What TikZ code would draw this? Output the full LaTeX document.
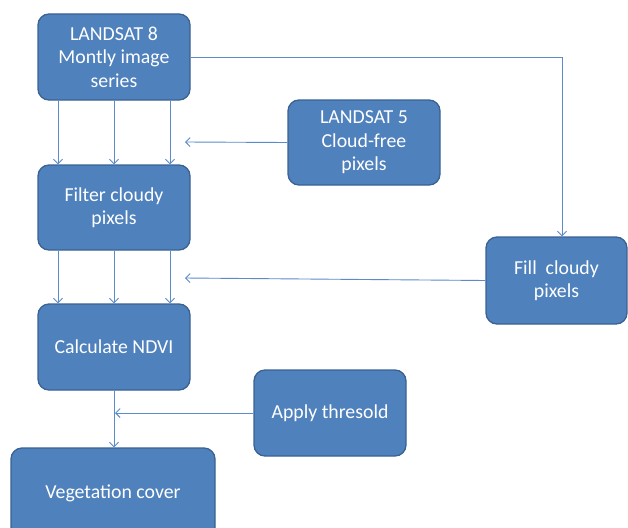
\documentclass[tikz,border=0pt]{standalone}
\usepackage{fontspec}
\setmainfont{Carlito}
\usetikzlibrary{arrows.meta,calc}
\definecolor{boxfill}{HTML}{4F81BD}
\definecolor{boxline}{HTML}{3A6293}
\definecolor{arrline}{HTML}{5B8BC9}
\tikzset{
  stepbox/.style={draw=boxline, line width=1.3pt, fill=boxfill, rounded corners=11pt,
    text=white, align=center, inner sep=0pt,
    font=\fontsize{19.8}{23.5}\selectfont},
  arr/.style={draw=arrline, line width=0.9pt, -{Straight Barb[length=4.5pt,width=9pt]}},
  ln/.style={draw=arrline, line width=0.9pt}
}
\begin{document}
\begin{tikzpicture}[x=1pt,y=-1pt]
\useasboundingbox (0,0) rectangle (628,527);
\clip (0,0) rectangle (628,527);
\node[stepbox, minimum width=152pt, minimum height=86pt] (L8) at (114,57) {LANDSAT 8\\Montly image\\series};
\node[stepbox, minimum width=152pt, minimum height=85pt] (L5) at (364,142.5) {LANDSAT 5\\Cloud-free\\pixels};
\node[stepbox, minimum width=152pt, minimum height=85pt] (Filter) at (114,207.5) {Filter cloudy\\pixels};
\node[stepbox, minimum width=141pt, minimum height=87pt] (Fill) at (556.5,280.5) {Fill\ \ cloudy\\pixels};
\node[stepbox, minimum width=152pt, minimum height=86pt] (Calc) at (114,347) {Calculate NDVI};
\node[stepbox, minimum width=152pt, minimum height=86pt] (Apply) at (330,413) {Apply thresold};
\node[stepbox, minimum width=204pt, minimum height=90pt] (Veg) at (113,493) {Vegetation cover};

\coordinate (t5) at (185,142);
\coordinate (tfill) at (185,278);
\coordinate (tapp) at (115,413);

\foreach \dx in {-56,0,56}{
  \draw[arr] ([xshift=\dx pt]L8.south) -- ([xshift=\dx pt]Filter.north);
  \draw[arr] ([xshift=\dx pt]Filter.south) -- ([xshift=\dx pt]Calc.north);
}
\draw[arr] (L5.west) -- (t5);
\draw[arr] (L8.east) -| ([xshift=5.5pt]Fill.north);
\draw[arr] (Fill.west) -- (tfill);
\draw[arr] (Calc.south) -- (Veg.north -| Calc.south);
\draw[arr] (Apply.west) -- (tapp);
\end{tikzpicture}
\end{document}
